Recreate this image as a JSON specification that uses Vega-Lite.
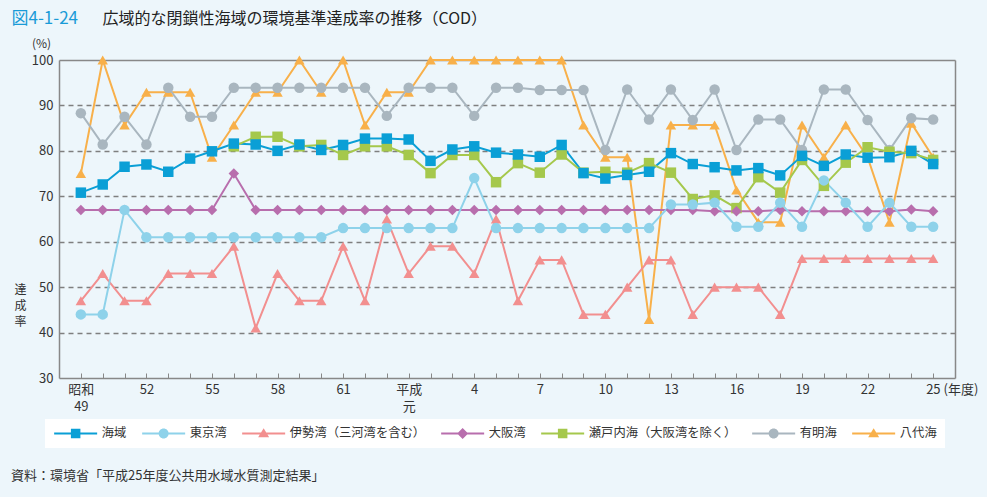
{
  "$schema": "https://vega.github.io/schema/vega-lite/v6.json",
  "width": 896,
  "height": 318,
  "autosize": {"type": "none"},
  "padding": {"left": 59, "top": 60, "right": 32, "bottom": 119},
  "background": "#edf6fb",
  "config": {"font": "Noto Sans CJK JP", "view": {"fill": "white", "stroke": null}},
  "title": {
    "text": "資料：環境省「平成25年度公共用水域水質測定結果」",
    "orient": "bottom", "anchor": "start", "frame": "group", "dx": -48, "offset": 22,
    "fontSize": 13, "fontWeight": "normal", "color": "#333333", "font": "Noto Sans CJK JP"
  },
  "data": {"values": [
    {"year":1974,"海域":70.8,"東京湾":44,"伊勢湾（三河湾を含む）":47,"大阪湾":67,"有明海":88.3,"八代海":75},
    {"year":1975,"海域":72.6,"東京湾":44,"伊勢湾（三河湾を含む）":53,"大阪湾":67,"有明海":81.4,"八代海":100},
    {"year":1976,"海域":76.5,"東京湾":67,"伊勢湾（三河湾を含む）":47,"大阪湾":67,"有明海":87.5,"八代海":85.7},
    {"year":1977,"海域":77.0,"東京湾":61,"伊勢湾（三河湾を含む）":47,"大阪湾":67,"有明海":81.4,"八代海":92.9},
    {"year":1978,"海域":75.4,"東京湾":61,"伊勢湾（三河湾を含む）":53,"大阪湾":67,"有明海":93.9,"八代海":92.9},
    {"year":1979,"海域":78.3,"東京湾":61,"伊勢湾（三河湾を含む）":53,"大阪湾":67,"有明海":87.5,"八代海":92.9},
    {"year":1980,"海域":79.9,"東京湾":61,"伊勢湾（三河湾を含む）":53,"大阪湾":67,"有明海":87.5,"八代海":78.6},
    {"year":1981,"海域":81.6,"東京湾":61,"伊勢湾（三河湾を含む）":59,"大阪湾":75,"瀬戸内海（大阪湾を除く）":81.0,"有明海":93.9,"八代海":85.7},
    {"year":1982,"海域":81.4,"東京湾":61,"伊勢湾（三河湾を含む）":41,"大阪湾":67,"瀬戸内海（大阪湾を除く）":83.1,"有明海":93.9,"八代海":92.9},
    {"year":1983,"海域":80.0,"東京湾":61,"伊勢湾（三河湾を含む）":53,"大阪湾":67,"瀬戸内海（大阪湾を除く）":83.1,"有明海":93.9,"八代海":92.9},
    {"year":1984,"海域":81.4,"東京湾":61,"伊勢湾（三河湾を含む）":47,"大阪湾":67,"瀬戸内海（大阪湾を除く）":81.0,"有明海":93.9,"八代海":100},
    {"year":1985,"海域":80.2,"東京湾":61,"伊勢湾（三河湾を含む）":47,"大阪湾":67,"瀬戸内海（大阪湾を除く）":81.3,"有明海":93.9,"八代海":92.9},
    {"year":1986,"海域":81.3,"東京湾":63,"伊勢湾（三河湾を含む）":59,"大阪湾":67,"瀬戸内海（大阪湾を除く）":79.1,"有明海":93.9,"八代海":100},
    {"year":1987,"海域":82.7,"東京湾":63,"伊勢湾（三河湾を含む）":47,"大阪湾":67,"瀬戸内海（大阪湾を除く）":81.0,"有明海":93.9,"八代海":85.7},
    {"year":1988,"海域":82.7,"東京湾":63,"伊勢湾（三河湾を含む）":65,"大阪湾":67,"瀬戸内海（大阪湾を除く）":81.0,"有明海":87.7,"八代海":92.9},
    {"year":1989,"海域":82.5,"東京湾":63,"伊勢湾（三河湾を含む）":53,"大阪湾":67,"瀬戸内海（大阪湾を除く）":79.1,"有明海":93.9,"八代海":92.9},
    {"year":1990,"海域":77.8,"東京湾":63,"伊勢湾（三河湾を含む）":59,"大阪湾":67,"瀬戸内海（大阪湾を除く）":75.1,"有明海":93.9,"八代海":100},
    {"year":1991,"海域":80.3,"東京湾":63,"伊勢湾（三河湾を含む）":59,"大阪湾":67,"瀬戸内海（大阪湾を除く）":79.1,"有明海":93.9,"八代海":100},
    {"year":1992,"海域":81.0,"東京湾":74,"伊勢湾（三河湾を含む）":53,"大阪湾":67,"瀬戸内海（大阪湾を除く）":79.1,"有明海":87.7,"八代海":100},
    {"year":1993,"海域":79.6,"東京湾":63,"伊勢湾（三河湾を含む）":65,"大阪湾":67,"瀬戸内海（大阪湾を除く）":73.1,"有明海":93.9,"八代海":100},
    {"year":1994,"海域":79.2,"東京湾":63,"伊勢湾（三河湾を含む）":47,"大阪湾":67,"瀬戸内海（大阪湾を除く）":77.3,"有明海":93.9,"八代海":100},
    {"year":1995,"海域":78.7,"東京湾":63,"伊勢湾（三河湾を含む）":56,"大阪湾":67,"瀬戸内海（大阪湾を除く）":75.2,"有明海":93.4,"八代海":100},
    {"year":1996,"海域":81.3,"東京湾":63,"伊勢湾（三河湾を含む）":56,"大阪湾":67,"瀬戸内海（大阪湾を除く）":79.2,"有明海":93.4,"八代海":100},
    {"year":1997,"海域":75.1,"東京湾":63,"伊勢湾（三河湾を含む）":44,"大阪湾":67,"瀬戸内海（大阪湾を除く）":75.2,"有明海":93.4,"八代海":85.7},
    {"year":1998,"海域":73.9,"東京湾":63,"伊勢湾（三河湾を含む）":44,"大阪湾":67,"瀬戸内海（大阪湾を除く）":75.4,"有明海":80.2,"八代海":78.6},
    {"year":1999,"海域":74.7,"東京湾":63,"伊勢湾（三河湾を含む）":50,"大阪湾":67,"瀬戸内海（大阪湾を除く）":75.2,"有明海":93.5,"八代海":78.6},
    {"year":2000,"海域":75.4,"東京湾":63,"伊勢湾（三河湾を含む）":56,"大阪湾":67,"瀬戸内海（大阪湾を除く）":77.3,"有明海":86.9,"八代海":42.9},
    {"year":2001,"海域":79.5,"東京湾":68.2,"伊勢湾（三河湾を含む）":56,"大阪湾":67,"瀬戸内海（大阪湾を除く）":75.2,"有明海":93.5,"八代海":85.7},
    {"year":2002,"海域":77.1,"東京湾":68.2,"伊勢湾（三河湾を含む）":44,"大阪湾":67,"瀬戸内海（大阪湾を除く）":69.4,"有明海":86.8,"八代海":85.7},
    {"year":2003,"海域":76.4,"東京湾":68.6,"伊勢湾（三河湾を含む）":50,"大阪湾":66.7,"瀬戸内海（大阪湾を除く）":70.2,"有明海":93.5,"八代海":85.7},
    {"year":2004,"海域":75.7,"東京湾":63.3,"伊勢湾（三河湾を含む）":50,"大阪湾":66.7,"瀬戸内海（大阪湾を除く）":67.4,"有明海":80.2,"八代海":71.4},
    {"year":2005,"海域":76.2,"東京湾":63.3,"伊勢湾（三河湾を含む）":50,"大阪湾":66.7,"瀬戸内海（大阪湾を除く）":74.2,"有明海":86.9,"八代海":64.3},
    {"year":2006,"海域":74.6,"東京湾":68.6,"伊勢湾（三河湾を含む）":44,"大阪湾":67,"瀬戸内海（大阪湾を除く）":70.8,"有明海":86.9,"八代海":64.3},
    {"year":2007,"海域":78.9,"東京湾":63.3,"伊勢湾（三河湾を含む）":56.3,"大阪湾":66.7,"瀬戸内海（大阪湾を除く）":78.0,"有明海":80.2,"八代海":85.7},
    {"year":2008,"海域":76.7,"東京湾":73.5,"伊勢湾（三河湾を含む）":56.3,"大阪湾":66.7,"瀬戸内海（大阪湾を除く）":72.3,"有明海":93.5,"八代海":78.6},
    {"year":2009,"海域":79.2,"東京湾":68.6,"伊勢湾（三河湾を含む）":56.3,"大阪湾":66.7,"瀬戸内海（大阪湾を除く）":77.4,"有明海":93.5,"八代海":85.7},
    {"year":2010,"海域":78.5,"東京湾":63.3,"伊勢湾（三河湾を含む）":56.3,"大阪湾":66.7,"瀬戸内海（大阪湾を除く）":80.8,"有明海":86.8,"八代海":78.6},
    {"year":2011,"海域":78.6,"東京湾":68.6,"伊勢湾（三河湾を含む）":56.3,"大阪湾":66.7,"瀬戸内海（大阪湾を除く）":79.8,"有明海":80.2,"八代海":64.3},
    {"year":2012,"海域":80.0,"東京湾":63.3,"伊勢湾（三河湾を含む）":56.3,"大阪湾":67.1,"瀬戸内海（大阪湾を除く）":79.5,"有明海":87.2,"八代海":86.1},
    {"year":2013,"海域":77.1,"東京湾":63.3,"伊勢湾（三河湾を含む）":56.3,"大阪湾":66.7,"瀬戸内海（大阪湾を除く）":78.0,"有明海":86.9,"八代海":78.6}
  ]},
  "transform": [
    {"fold": ["八代海","有明海","瀬戸内海（大阪湾を除く）","大阪湾","伊勢湾（三河湾を含む）","東京湾","海域"], "as": ["series","v"]},
    {"filter": "isValid(datum.v)"}
  ],
  "layer": [
    {
      "mark": {"type": "line", "strokeWidth": 2},
      "encoding": {
        "x": {
          "field": "year", "type": "quantitative",
          "scale": {"domain": [1973, 2014], "nice": false, "zero": false},
          "axis": {
            "orient": "bottom",
            "values": [1974,1975,1976,1977,1978,1979,1980,1981,1982,1983,1984,1985,1986,1987,1988,1989,1990,1991,1992,1993,1994,1995,1996,1997,1998,1999,2000,2001,2002,2003,2004,2005,2006,2007,2008,2009,2010,2011,2012,2013],
            "labelExpr": "datum.value == 1974 ? ['昭和','49'] : datum.value == 1989 ? ['平成','元'] : datum.value == 2013 ? '25 (年度)' : (datum.value - 1974) % 3 == 0 ? (datum.value < 1989 ? '' + (datum.value - 1925) : '' + (datum.value - 1988)) : ''",
            "labelFlush": false, "labelOverlap": false, "labelBound": false,
            "labelAlign": {"condition": {"test": "datum.value == 2013", "value": "left"}, "value": "center"},
            "labelOffset": {"condition": {"test": "datum.value == 2013", "value": -7.5}, "value": 0},
            "labelBaseline": "top", "labelLineHeight": 17.5,
            "labelFontSize": 13, "labelColor": "#333333", "labelPadding": 10,
            "ticks": true, "tickSize": -5, "tickColor": "#888888", "tickWidth": 1,
            "domainColor": "#888888", "domainWidth": 1.5, "grid": false,
            "title": ["達","成","率"], "titleAngle": 0, "titleX": -39, "titleY": -89,
            "titleAlign": "center", "titleBaseline": "middle", "titleLineHeight": 16,
            "titleFontSize": 12, "titleFontWeight": "normal", "titleColor": "#333333"
          }
        },
        "y": {
          "field": "v", "type": "quantitative",
          "scale": {"domain": [30, 100], "nice": false, "zero": false},
          "axis": {
            "orient": "left",
            "values": [30,40,50,60,70,80,90,100],
            "grid": true, "gridDash": [5,4], "gridColor": "#7f7f7f", "gridWidth": 1.3,
            "gridOpacity": {"condition": {"test": "datum.value == 30 || datum.value == 100", "value": 0}, "value": 1},
            "ticks": false, "domainColor": "#888888", "domainWidth": 1.5,
            "labelPadding": 6, "labelFontSize": 13, "labelColor": "#333333",
            "title": "(%)", "titleAngle": 0, "titleX": -18, "titleY": -17,
            "titleAlign": "center", "titleBaseline": "middle",
            "titleFontSize": 12, "titleFontWeight": "normal", "titleColor": "#333333"
          }
        },
        "color": {
          "field": "series", "type": "nominal",
          "scale": {
            "domain": ["海域","東京湾","伊勢湾（三河湾を含む）","大阪湾","瀬戸内海（大阪湾を除く）","有明海","八代海"],
            "range": ["#0a9fd6","#8ed2ea","#f28f8f","#b86ead","#a5c84c","#a9b6bf","#f8b04a"]
          }
        }
      }
    },
    {
      "mark": {"type": "point", "filled": true, "size": 110, "opacity": 1},
      "encoding": {
        "x": {
          "field": "year", "type": "quantitative",
          "scale": {"domain": [1973, 2014], "nice": false, "zero": false},
          "axis": {
            "orient": "top", "labels": false, "ticks": false, "grid": false,
            "domainColor": "#888888", "domainWidth": 1.5,
            "title": "広域的な閉鎖性海域の環境基準達成率の推移（COD）",
            "titleX": 43, "titleY": -42, "titleAlign": "left", "titleBaseline": "middle",
            "titleFontSize": 16, "titleFontWeight": "normal", "titleColor": "#222222"
          }
        },
        "y": {
          "field": "v", "type": "quantitative",
          "scale": {"domain": [30, 100], "nice": false, "zero": false},
          "axis": {
            "orient": "right", "labels": false, "ticks": false, "grid": false,
            "domainColor": "#888888", "domainWidth": 1.5,
            "title": "図4-1-24", "titleAngle": 0,
            "titleX": -944, "titleY": -42, "titleAlign": "left", "titleBaseline": "middle",
            "titleFontSize": 17, "titleFontWeight": "normal", "titleColor": "#1a9bd7"
          }
        },
        "color": {
          "field": "series", "type": "nominal",
          "scale": {
            "domain": ["海域","東京湾","伊勢湾（三河湾を含む）","大阪湾","瀬戸内海（大阪湾を除く）","有明海","八代海"],
            "range": ["#0a9fd6","#8ed2ea","#f28f8f","#b86ead","#a5c84c","#a9b6bf","#f8b04a"]
          }
        },
        "shape": {
          "condition": [
            {"test": "datum.series == '海域' || datum.series == '瀬戸内海（大阪湾を除く）'", "value": "square"},
            {"test": "datum.series == '東京湾' || datum.series == '有明海'", "value": "circle"},
            {"test": "datum.series == '大阪湾'", "value": "diamond"}
          ],
          "value": "triangle-up"
        }
      }
    },
    {
      "transform": [{"filter": "false"}],
      "mark": {"type": "point", "filled": true, "opacity": 1},
      "encoding": {
        "color": {
          "field": "series", "type": "nominal",
          "scale": {
            "domain": ["海域","東京湾","伊勢湾（三河湾を含む）","大阪湾","瀬戸内海（大阪湾を除く）","有明海","八代海"],
            "range": ["#0a9fd6","#8ed2ea","#f28f8f","#b86ead","#a5c84c","#a9b6bf","#f8b04a"]
          },
          "legend": {
            "orient": "none", "legendX": -14, "legendY": 359,
            "direction": "horizontal", "columns": 7, "title": null,
            "fillColor": "white", "padding": 8, "columnPadding": 14,
            "symbolSize": 100, "symbolStrokeWidth": 0, "symbolOffset": 16.5,
            "labelOffset": 20, "labelFontSize": 12.3, "labelColor": "#333333", "labelLimit": 400
          }
        },
        "shape": {
          "field": "series", "type": "nominal",
          "scale": {
            "domain": ["海域","東京湾","伊勢湾（三河湾を含む）","大阪湾","瀬戸内海（大阪湾を除く）","有明海","八代海"],
            "range": [
              "M-4.3,-0.2H4.3V0.2H-4.3Z M-0.95,-0.95H0.95V0.95H-0.95Z",
              "M-4.3,-0.2H4.3V0.2H-4.3Z M-1,0A1,1,0,1,1,1,0A1,1,0,1,1,-1,0Z",
              "M-4.3,-0.2H4.3V0.2H-4.3Z M0,-1.05L1.1,0.75H-1.1Z",
              "M-4.3,-0.2H4.3V0.2H-4.3Z M0,-1.1L1.1,0L0,1.1L-1.1,0Z",
              "M-4.3,-0.2H4.3V0.2H-4.3Z M-0.95,-0.95H0.95V0.95H-0.95Z",
              "M-4.3,-0.2H4.3V0.2H-4.3Z M-1,0A1,1,0,1,1,1,0A1,1,0,1,1,-1,0Z",
              "M-4.3,-0.2H4.3V0.2H-4.3Z M0,-1.05L1.1,0.75H-1.1Z"
            ]
          },
          "legend": {
            "orient": "none", "legendX": -14, "legendY": 359,
            "direction": "horizontal", "columns": 7, "title": null,
            "fillColor": "white", "padding": 8, "columnPadding": 14,
            "symbolSize": 100, "symbolStrokeWidth": 0, "symbolOffset": 16.5,
            "labelOffset": 20, "labelFontSize": 12.3, "labelColor": "#333333", "labelLimit": 400
          }
        }
      }
    }
  ],
  "resolve": {"axis": {"x": "independent", "y": "independent"}}
}
